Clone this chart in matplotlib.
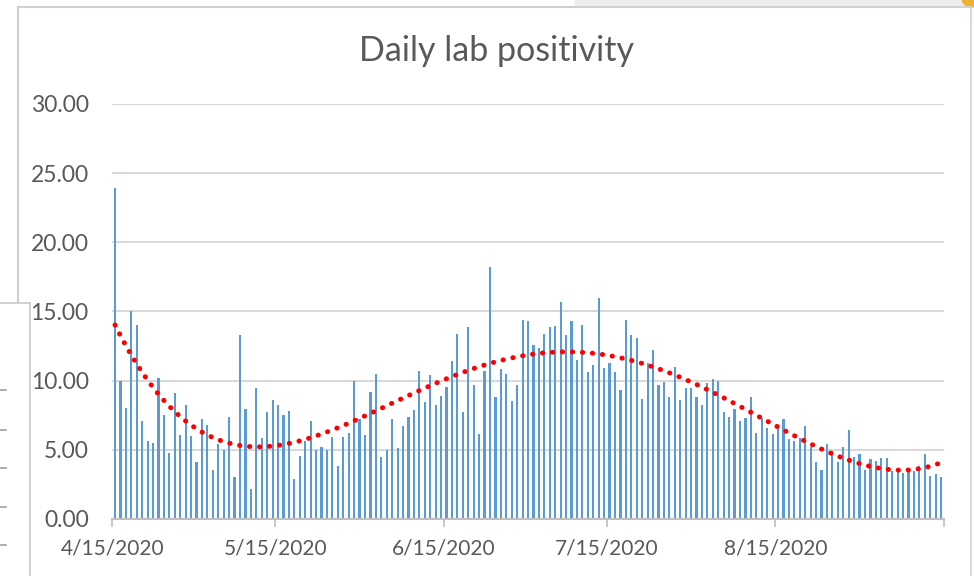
import numpy as np
import pandas as pd
import matplotlib
matplotlib.use("Agg")
import matplotlib.pyplot as plt
import matplotlib.dates as mdates
from matplotlib.patches import Rectangle, Circle
from matplotlib.lines import Line2D

# daily lab positivity (%), 4/15/2020 .. 9/14/2020
positivity = [
    23.9, 10.0, 8.0, 15.0, 14.0, 7.05, 5.65, 5.5, 10.2, 7.5,
    4.75, 9.1, 6.1, 8.25, 6.0, 4.15, 7.25, 6.8, 3.55, 5.4,
    5.0, 7.4, 3.0, 13.3, 7.95, 2.2, 9.45, 5.85, 7.7, 8.6,
    8.25, 7.5, 7.8, 2.9, 4.55, 5.65, 7.1, 5.0, 5.2, 5.0,
    5.9, 3.85, 5.9, 6.2, 10.0, 7.2, 6.05, 9.2, 10.5, 4.45,
    4.95, 7.25, 5.1, 6.75, 7.35, 7.9, 10.7, 8.45, 10.4, 8.25,
    8.9, 9.55, 11.4, 13.4, 7.7, 13.85, 9.7, 6.15, 10.7, 18.2,
    8.8, 10.85, 10.45, 8.5, 9.7, 14.4, 14.3, 12.55, 12.35, 13.35,
    13.85, 13.95, 15.7, 13.3, 14.3, 11.5, 14.05, 10.65, 11.1, 16.0,
    10.9, 11.25, 10.65, 9.3, 14.4, 13.3, 13.05, 8.7, 11.25, 12.2,
    9.65, 9.9, 8.8, 10.95, 8.6, 9.45, 9.5, 8.8, 8.25, 9.8,
    10.15, 10.0, 7.7, 7.4, 7.95, 7.1, 7.3, 8.8, 6.2, 7.3,
    6.55, 6.15, 6.7, 7.25, 5.75, 5.65, 5.85, 6.75, 5.2, 4.1,
    3.55, 5.4, 4.9, 4.1, 5.2, 6.4, 4.45, 4.7, 3.55, 4.3,
    4.2, 4.4, 4.4, 3.5, 3.45, 3.35, 3.5, 3.5, 3.85, 4.7,
    3.1, 3.25, 3.0,
]
start_date = "2020-04-15"
tick_dates = ["2020-04-15", "2020-05-15", "2020-06-15", "2020-07-15",
              "2020-08-15", "2020-09-15"]
tick_labels = ["4/15/2020", "5/15/2020", "6/15/2020", "7/15/2020",
               "8/15/2020", ""]
y_ticks = [0, 5, 10, 15, 20, 25, 30]

plt.rcParams["font.family"] = ["Lato", "DejaVu Sans"]

dates = pd.date_range(start_date, periods=len(positivity))
x = mdates.date2num(dates)
y = np.array(positivity)

# polynomial trendline like Excel (order 4)
coef = np.polyfit(np.arange(len(y)), y, 4)
trend = np.polyval(coef, np.arange(len(y)))

fig = plt.figure(figsize=(9.74, 5.76), dpi=100)
ax = fig.add_axes([0.1153, 0.099, 0.8537, 0.7205])

ax.bar(x, y, width=0.4, color="#5B9BD5", zorder=2)
ax.plot(x, trend, color="#FF0000", lw=3.6, linestyle=(0, (0.05, 1.95)),
        dash_capstyle="round", zorder=3)

ax.set_ylim(0, 30)
ax.set_xlim(x[0] - 0.5, x[-1] + 0.5)
ax.set_yticks(y_ticks)
ax.set_yticklabels([f"{v:.2f}" for v in y_ticks])
ax.yaxis.grid(True, color="#D9D9D9", lw=1.5, zorder=0)
ax.set_axisbelow(True)

tick_pos = mdates.date2num(pd.to_datetime(tick_dates)) - 0.5
ax.set_xticks(tick_pos)
ax.set_xticklabels(tick_labels)

for s in ["top", "right", "left"]:
    ax.spines[s].set_visible(False)
ax.spines["bottom"].set_color("#BFBFBF")
ax.spines["bottom"].set_linewidth(1.5)
ax.tick_params(axis="x", length=6, width=1.2, color="#BFBFBF",
               labelsize=15, labelcolor="#595959", pad=8)
ax.tick_params(axis="y", length=0, labelsize=16.5, labelcolor="#595959", pad=17)

fig.text(0.51, 0.912, "Daily lab positivity", ha="center", va="center",
         fontsize=24.5, color="#595959")

# screenshot frame bits
fig.patches.append(Rectangle((0.59, 0.99), 0.42, 0.02, transform=fig.transFigure,
                             color="#EDEDED", zorder=0))
fig.patches.append(Circle((1.0, 1.0), 0.012, transform=fig.transFigure,
                          color="#F0B030", zorder=1))
fig.lines.append(Line2D([0.0185, 0.0185], [0.47, 0.988], transform=fig.transFigure,
                        color="#D0D0D0", lw=1.5))
fig.lines.append(Line2D([0.0185, 0.997], [0.988, 0.988], transform=fig.transFigure,
                        color="#D0D0D0", lw=1.5))
fig.lines.append(Line2D([0.997, 0.997], [0.0, 0.988], transform=fig.transFigure,
                        color="#D0D0D0", lw=1.2))
fig.patches.append(Rectangle((-0.01, -0.01), 0.041, 0.484, transform=fig.transFigure,
                             facecolor="white", edgecolor="#C8C8C8", lw=1.2, zorder=5))
for yy in [390, 430, 468, 507, 545]:
    fig.lines.append(Line2D([0.0, 0.006], [1 - yy / 576] * 2, transform=fig.transFigure,
                            color="#A0A0A0", lw=1.2, zorder=6))

fig.savefig("out.png", dpi=100)
